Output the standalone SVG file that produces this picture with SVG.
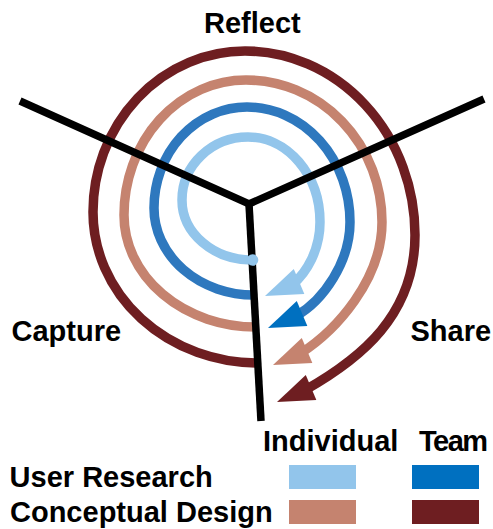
<svg xmlns="http://www.w3.org/2000/svg" xmlns:xlink="http://www.w3.org/1999/xlink" width="493" height="529" viewBox="0 0 493 529">
  <style>
    .ring { fill: none; stroke-width: 9.5; stroke-linecap: butt; }
    .axis { fill: none; stroke: #000; stroke-width: 7.5; stroke-linecap: butt; stroke-linejoin: miter; }
    .lbl { font-family: "Liberation Sans", Arial, Helvetica, sans-serif; font-weight: bold; font-size: 29px; fill: #000; }
    .ind-ur { stroke: #92C5EB; fill: #92C5EB; }
    .team-ur { stroke: #2E78BE; fill: #0070C0; }
    .ind-cd { stroke: #C5836F; fill: #C5836F; }
    .team-cd { stroke: #6E1E21; fill: #6E1E21; }
  </style>
  <defs>
    <!-- arrowhead, tip at the origin pointing along +x -->
    <path id="head" d="M0,0 L-37,-13.5 L-37,13.5 Z" stroke="none"/>
  </defs>

  <rect width="493" height="529" fill="#fff"/>

  <!-- spiral rings: each starts at the lower axis and ends with an arrowhead -->
  <g id="ring-user-research-individual" class="ind-ur">
    <path class="ring" d="M252,260 A70,60 0 0 1 182,200 A66,63 0 0 1 248,137 A72,85 0 0 1 320,222 C320,250 306.5,272.8 292.6,284.3"/>
    <use xlink:href="#head" transform="translate(265,296) rotate(157)"/>
  </g>
  <g id="ring-user-research-team" class="team-ur">
    <path class="ring" d="M254,295 A100,87 0 0 1 154,208 A93,101 0 0 1 247,107 A103,115 0 0 1 350,222 C350,262 323.4,300.6 295.6,316.3"/>
    <use xlink:href="#head" transform="translate(268,328) rotate(157)"/>
  </g>
  <g id="ring-conceptual-design-individual" class="ind-cd">
    <path class="ring" d="M256,327 A132,112 0 0 1 124,215 A122,135 0 0 1 246,80 A136,142 0 0 1 382,222 C382,280 335.9,330.6 300.6,353.3"/>
    <use xlink:href="#head" transform="translate(273,365) rotate(157)"/>
  </g>
  <g id="ring-conceptual-design-team" class="team-cd">
    <path class="ring" d="M258,363 A165,151 0 0 1 93,212 A152,161 0 0 1 245,51 A170,184 0 0 1 415,235 C415,315 361.1,358.4 304.6,390.3"/>
    <use xlink:href="#head" transform="translate(277,402) rotate(157)"/>
  </g>

  <!-- three axes separating the phases -->
  <g id="axes">
    <path class="axis" d="M20,101 L249,204 L484,99"/>
    <path class="axis" d="M249,204 L261,421"/>
  </g>

  <!-- round start of the innermost ring, over the axis -->
  <circle cx="252.5" cy="260" r="5.8" fill="#92C5EB"/>

  <!-- phase labels -->
  <g id="phase-reflect"><text class="lbl" x="204" y="33">Reflect</text></g>
  <g id="phase-capture"><text class="lbl" x="11.5" y="341">Capture</text></g>
  <g id="phase-share"><text class="lbl" x="410.5" y="341">Share</text></g>

  <!-- legend -->
  <g id="legend">
    <text class="lbl" x="263" y="451">Individual</text>
    <text class="lbl" x="419" y="451" letter-spacing="-1.5">Team</text>
    <text class="lbl" x="9.6" y="487">User Research</text>
    <text class="lbl" x="10" y="522">Conceptual Design</text>
    <rect x="289" y="465" width="67" height="24" fill="#92C5EB"/>
    <rect x="412" y="465" width="67" height="24" fill="#0070C0"/>
    <rect x="289" y="500" width="67" height="24" fill="#C5836F"/>
    <rect x="412" y="500" width="67" height="24" fill="#6E1E21"/>
  </g>
</svg>
